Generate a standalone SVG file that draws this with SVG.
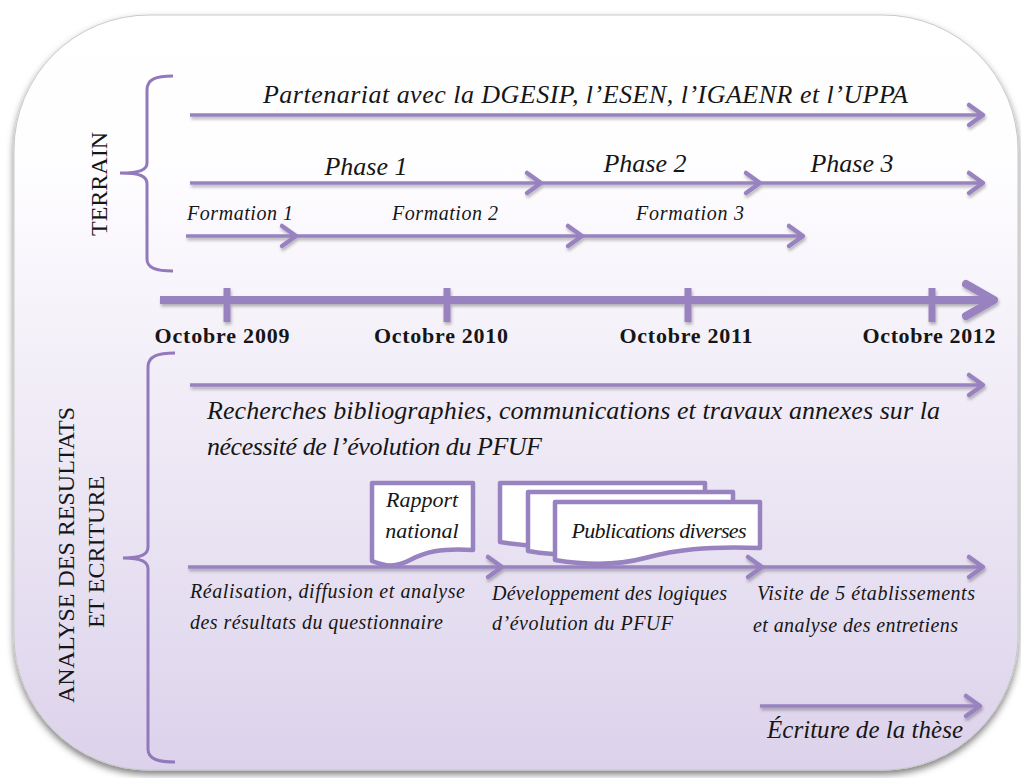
<svg xmlns="http://www.w3.org/2000/svg" width="1021" height="778" viewBox="0 0 1021 778">
  <defs>
    <linearGradient id="panelFill" x1="0" y1="0" x2="0" y2="1">
      <stop offset="0" stop-color="#ffffff"/>
      <stop offset="0.2" stop-color="#fefdff"/>
      <stop offset="0.55" stop-color="#efeaf6"/>
      <stop offset="1" stop-color="#dcd2eb"/>
    </linearGradient>
    <filter id="panelShadow" filterUnits="userSpaceOnUse" x="0" y="0" width="1021" height="778">
      <feDropShadow dx="0" dy="4" stdDeviation="3.5" flood-color="#000" flood-opacity="0.5"/>
    </filter>
    <filter id="lineShadow" filterUnits="userSpaceOnUse" x="0" y="0" width="1021" height="778">
      <feDropShadow dx="1" dy="2.5" stdDeviation="1.6" flood-color="#000" flood-opacity="0.28"/>
    </filter>
    <marker id="arrow" markerUnits="userSpaceOnUse" viewBox="-16 -13 20 26" markerWidth="20" markerHeight="26" refX="0" refY="0" orient="auto" overflow="visible">
      <path d="M-14,-10 L0,0 L-14,10" fill="none" stroke="#9882bf" stroke-width="4.5" stroke-linecap="round" stroke-linejoin="round"/>
    </marker>
    <marker id="bigArrow" markerUnits="userSpaceOnUse" viewBox="-34 -20 40 40" markerWidth="40" markerHeight="40" refX="0" refY="0" orient="auto" overflow="visible">
      <path d="M-28,-16 L0,0 L-28,16" fill="none" stroke="#9882bf" stroke-width="8" stroke-linecap="round" stroke-linejoin="round"/>
    </marker>
    <style>
      .ln { stroke: #9882bf; stroke-width: 3.5; fill: none; marker-end: url(#arrow); }
      .tl { stroke: #9882bf; stroke-width: 8; fill: none; }
      .tick { stroke: #9882bf; stroke-width: 7; }
      .brace { stroke: #9279bb; stroke-width: 3; fill: none; }
      .doc { fill: #ffffff; stroke: #9882bf; stroke-width: 4.5; stroke-linejoin: round; }
      .it { font-family: "Liberation Serif", serif; font-style: italic; fill: #161616; }
      .bd { font-family: "Liberation Serif", serif; font-weight: bold; font-size: 22px; fill: #161616; text-anchor: middle; }
      .cap { font-family: "Liberation Serif", serif; font-size: 24px; fill: #161616; text-anchor: middle; }
      .mid { text-anchor: middle; }
    </style>
  </defs>

  <!-- rounded background panel -->
  <rect x="14" y="15" width="1004" height="755" rx="135" ry="135" fill="url(#panelFill)" stroke="#c9c9c9" stroke-width="1" filter="url(#panelShadow)"/>

  <!-- section braces and titles -->
  <g id="terrain">
    <path class="brace" d="M173,76 C156,76 147,79 147,90 L147,163 C147,170 140,173 120,173 C140,173 147,176 147,184 L147,259 C147,268 156,271 173,271"/>
    <text class="cap" transform="translate(107,184) rotate(-90)">TERRAIN</text>
  </g>
  <g id="analyse">
    <path class="brace" d="M175,353 C158,353 148,356 148,367 L148,547 C148,554 142,558 123,558 C142,558 148,562 148,569 L148,749 C148,759 158,762 175,762"/>
    <text class="cap" transform="translate(74,555) rotate(-90)">ANALYSE DES RESULTATS</text>
    <text class="cap" transform="translate(104,552) rotate(-90)">ET ECRITURE</text>
  </g>

  <!-- connectors: all horizontal arrows -->
  <g id="connectors" filter="url(#lineShadow)">
    <line class="ln" x1="190" y1="115" x2="983" y2="115"/>
    <line class="ln" x1="190" y1="183" x2="541" y2="183"/>
    <line class="ln" x1="541" y1="183" x2="760" y2="183"/>
    <line class="ln" x1="760" y1="183" x2="983" y2="183"/>
    <line class="ln" x1="186" y1="236" x2="296" y2="236"/>
    <line class="ln" x1="296" y1="236" x2="582" y2="236"/>
    <line class="ln" x1="582" y1="236" x2="803" y2="236"/>
    <line class="ln" x1="190" y1="385" x2="983" y2="385"/>
    <line class="ln" x1="188" y1="567" x2="502" y2="567"/>
    <line class="ln" x1="502" y1="567" x2="762" y2="567"/>
    <line class="ln" x1="762" y1="567" x2="983" y2="567"/>
    <line class="ln" x1="760" y1="706" x2="980" y2="706"/>
  </g>

  <!-- timeline axis -->
  <g id="timeline" filter="url(#lineShadow)">
    <line class="tl" x1="160" y1="300" x2="994" y2="300" marker-end="url(#bigArrow)"/>
    <line class="tick" x1="227" y1="288" x2="227" y2="322"/>
    <line class="tick" x1="447" y1="288" x2="447" y2="322"/>
    <line class="tick" x1="688" y1="288" x2="688" y2="322"/>
    <line class="tick" x1="932" y1="288" x2="932" y2="322"/>
  </g>
  <g id="dates">
    <text class="bd" x="222" y="343" textLength="135">Octobre 2009</text>
    <text class="bd" x="441" y="343" textLength="134">Octobre 2010</text>
    <text class="bd" x="686" y="343" textLength="133">Octobre 2011</text>
    <text class="bd" x="929" y="343" textLength="133">Octobre 2012</text>
  </g>

  <!-- terrain labels -->
  <g id="partenariat">
    <text class="it" x="263" y="103" font-size="26" textLength="645">Partenariat avec la DGESIP, l’ESEN,  l’IGAENR et l’UPPA</text>
  </g>
  <g id="phases">
    <text class="it mid" x="366" y="175" font-size="26">Phase 1</text>
    <text class="it mid" x="645" y="172" font-size="26">Phase 2</text>
    <text class="it mid" x="852" y="172" font-size="26">Phase 3</text>
  </g>
  <g id="formations">
    <text class="it" x="187" y="220" font-size="20" textLength="106">Formation 1</text>
    <text class="it" x="392" y="220" font-size="20" textLength="106">Formation 2</text>
    <text class="it" x="636" y="220" font-size="20" textLength="108">Formation 3</text>
  </g>

  <!-- analysis labels -->
  <g id="recherches">
    <text class="it" x="207" y="419" font-size="26" textLength="733">Recherches bibliographies, communications et travaux annexes sur la</text>
    <text class="it" x="207" y="455" font-size="26" textLength="335">nécessité de l’évolution du PFUF</text>
  </g>

  <g id="rapport">
    <path class="doc" d="M372,483 H473 V550 C440,548 425,552 410,560 C395,568 385,566 372,561 Z"/>
    <text class="it mid" x="422" y="507" font-size="22">Rapport</text>
    <text class="it mid" x="422" y="538" font-size="22">national</text>
  </g>

  <g id="publications">
    <path class="doc" d="M500,483 H705 V530 C650,528 620,532 590,540 C560,548 530,547 500,542 Z"/>
    <path class="doc" d="M528,492 H733 V539 C678,537 648,541 618,549 C588,557 558,556 528,551 Z"/>
    <path class="doc" d="M555,502 H760 V548 C705,546 675,550 645,558 C615,566 585,565 555,560 Z"/>
    <text class="it mid" x="659" y="538" font-size="22" textLength="175">Publications diverses</text>
  </g>

  <g id="realisation">
    <text class="it" x="190" y="598" font-size="20" textLength="275">Réalisation, diffusion et analyse</text>
    <text class="it" x="190" y="629" font-size="20" textLength="253">des résultats du questionnaire</text>
  </g>
  <g id="developpement">
    <text class="it" x="492" y="600" font-size="20" textLength="235">Développement des logiques</text>
    <text class="it" x="492" y="630" font-size="20" textLength="181">d’évolution du PFUF</text>
  </g>
  <g id="visite">
    <text class="it" x="757" y="600" font-size="20" textLength="218">Visite de 5 établissements</text>
    <text class="it" x="753" y="632" font-size="20" textLength="205">et analyse des entretiens</text>
  </g>
  <g id="ecriture">
    <text class="it" x="767" y="738" font-size="25" textLength="196">Écriture de la thèse</text>
  </g>
</svg>
